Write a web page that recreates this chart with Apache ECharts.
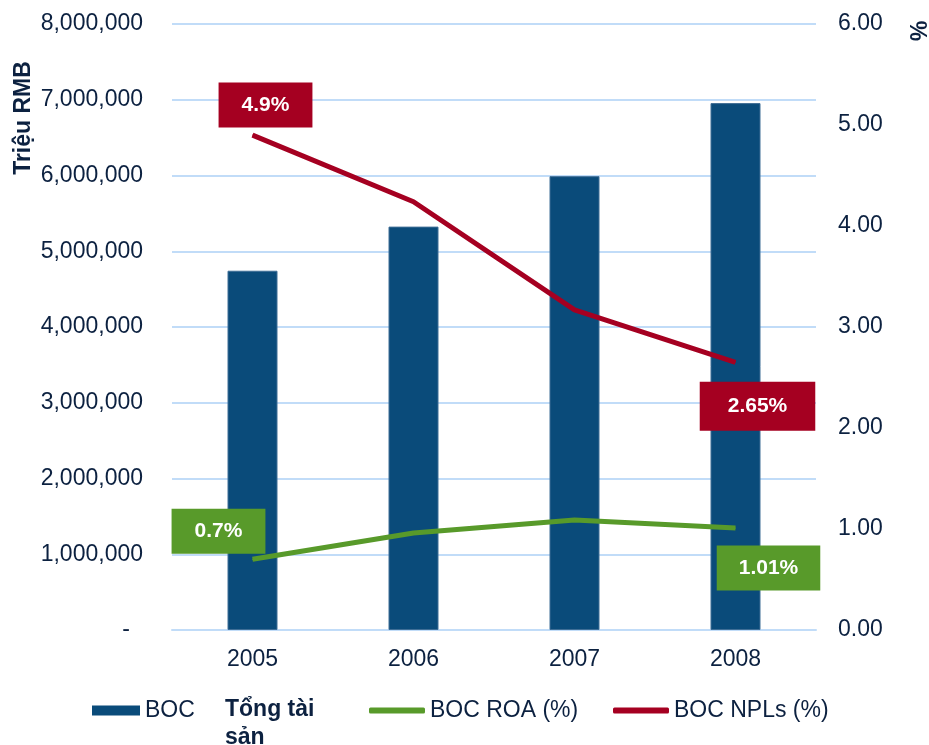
<!DOCTYPE html>
<html>
<head>
<meta charset="utf-8">
<script src="https://cdn.jsdelivr.net/npm/echarts@6/dist/echarts.min.js"></script>
<style>
  html, body { margin: 0; padding: 0; background: #fff; }
  #chart { width: 929px; height: 745px; }
</style>
</head>
<body>
<div id="chart"></div>
<script>
// du lieu
var years = ['2005', '2006', '2007', '2008'];
var totalAssets = [4742806, 5325273, 5991217, 6955694];
var roa = [0.70, 0.96, 1.09, 1.01];
var npl = [4.90, 4.24, 3.17, 2.65];
var leftTicks = [0, 8000000, 1000000];
var rightTicks = [0, 6, 1];

var navy = '#0c2140';
var gridBlue = '#c1dcf8';
var fontFam = '"Liberation Sans", Arial, sans-serif';

function fmtNum(v) {
    if (v === 0) return '{d|-}';
    return String(v).replace(/\B(?=(\d{3})+(?!\d))/g, ',');
}

function boxLabel(bg, offset, pad) {
    return {
        show: true,
        position: 'inside',
        offset: offset,
        formatter: function (p) { return p.value + '%'; },
        color: '#fff',
        fontWeight: 'bold',
        fontSize: 21,
        fontFamily: fontFam,
        backgroundColor: bg,
        padding: pad
    };
}

var nplData = npl.map(function (v, i) {
    var d = { value: v };
    if (i === 0) d.label = boxLabel('#a50021', [13, -30], [12, 23]);
    if (i === 3) d.label = boxLabel('#a50021', [22, 44], [14, 28]);
    return d;
});
var roaData = roa.map(function (v, i) {
    var d = { value: v };
    if (i === 0) d.label = boxLabel('#589a2a', [-34, -28], [12, 23]);
    if (i === 3) d.label = boxLabel('#589a2a', [33, 40], [12, 22]);
    return d;
});

var chart = echarts.init(document.getElementById('chart'));
var option = {
    animation: false,
    textStyle: { fontFamily: fontFam },
    grid: { left: 172, right: 113, top: 24, bottom: 115 },
    legend: [
        {
            left: 92, top: 699, padding: 0, data: ['BOC'], icon: 'rect',
            itemWidth: 48, itemHeight: 10,
            itemStyle: { borderWidth: 0 },
            textStyle: { color: navy, fontSize: 23, fontFamily: fontFam }
        },
        {
            left: 369, top: 699, padding: 0, data: ['BOC ROA (%)'], icon: 'roundRect',
            itemWidth: 56, itemHeight: 6,
            textStyle: { color: navy, fontSize: 23, fontFamily: fontFam }
        },
        {
            left: 613, top: 699, padding: 0, data: ['BOC NPLs (%)'], icon: 'roundRect',
            itemWidth: 56, itemHeight: 6,
            textStyle: { color: navy, fontSize: 23, fontFamily: fontFam }
        }
    ],
    graphic: [
        {
            type: 'text', left: 225, top: 696,
            style: {
                text: 'Tổng tài\nsản', fill: navy, font: 'bold 23px ' + fontFam,
                lineHeight: 28
            }
        },
        {
            type: 'text', x: 24, y: 118, rotation: Math.PI / 2,
            style: {
                text: 'Triệu RMB', fill: navy, font: 'bold 23px ' + fontFam,
                align: 'center', verticalAlign: 'middle'
            }
        },
        {
            type: 'text', x: 916, y: 31, rotation: -Math.PI / 2,
            style: {
                text: '%', fill: navy, font: 'bold 23px ' + fontFam,
                align: 'center', verticalAlign: 'middle'
            }
        }
    ],
    xAxis: {
        type: 'category',
        data: years,
        axisLine: { lineStyle: { color: gridBlue, width: 2 } },
        axisTick: { show: false },
        axisLabel: { color: navy, fontSize: 23, margin: 18 }
    },
    yAxis: [
        {
            type: 'value',
            min: leftTicks[0], max: leftTicks[1], interval: leftTicks[2],
            axisLine: { show: false },
            axisTick: { show: false },
            splitLine: { lineStyle: { color: gridBlue, width: 2 } },
            axisLabel: {
                color: navy, fontSize: 23, margin: 29,
                formatter: fmtNum,
                rich: { d: { color: navy, fontSize: 23, padding: [0, 13, 0, 0] } }
            }
        },
        {
            type: 'value',
            min: rightTicks[0], max: rightTicks[1], interval: rightTicks[2],
            axisLine: { show: false },
            axisTick: { show: false },
            splitLine: { show: false },
            axisLabel: {
                color: navy, fontSize: 23, margin: 22,
                formatter: function (v) { return v.toFixed(2); }
            }
        }
    ],
    series: [
        {
            name: 'BOC',
            type: 'bar',
            barWidth: 50,
            data: totalAssets,
            itemStyle: { color: '#0a4b7a', borderColor: '#3f6e96', borderWidth: 1 }
        },
        {
            name: 'BOC ROA (%)',
            type: 'line',
            yAxisIndex: 1,
            data: roaData,
            symbol: 'circle',
            symbolSize: 1,
            lineStyle: { color: '#589a2a', width: 5 },
            itemStyle: { color: '#589a2a' }
        },
        {
            name: 'BOC NPLs (%)',
            type: 'line',
            yAxisIndex: 1,
            data: nplData,
            symbol: 'circle',
            symbolSize: 1,
            lineStyle: { color: '#a50021', width: 5 },
            itemStyle: { color: '#a50021' }
        }
    ]
};
chart.setOption(option);
</script>
</body>
</html>
